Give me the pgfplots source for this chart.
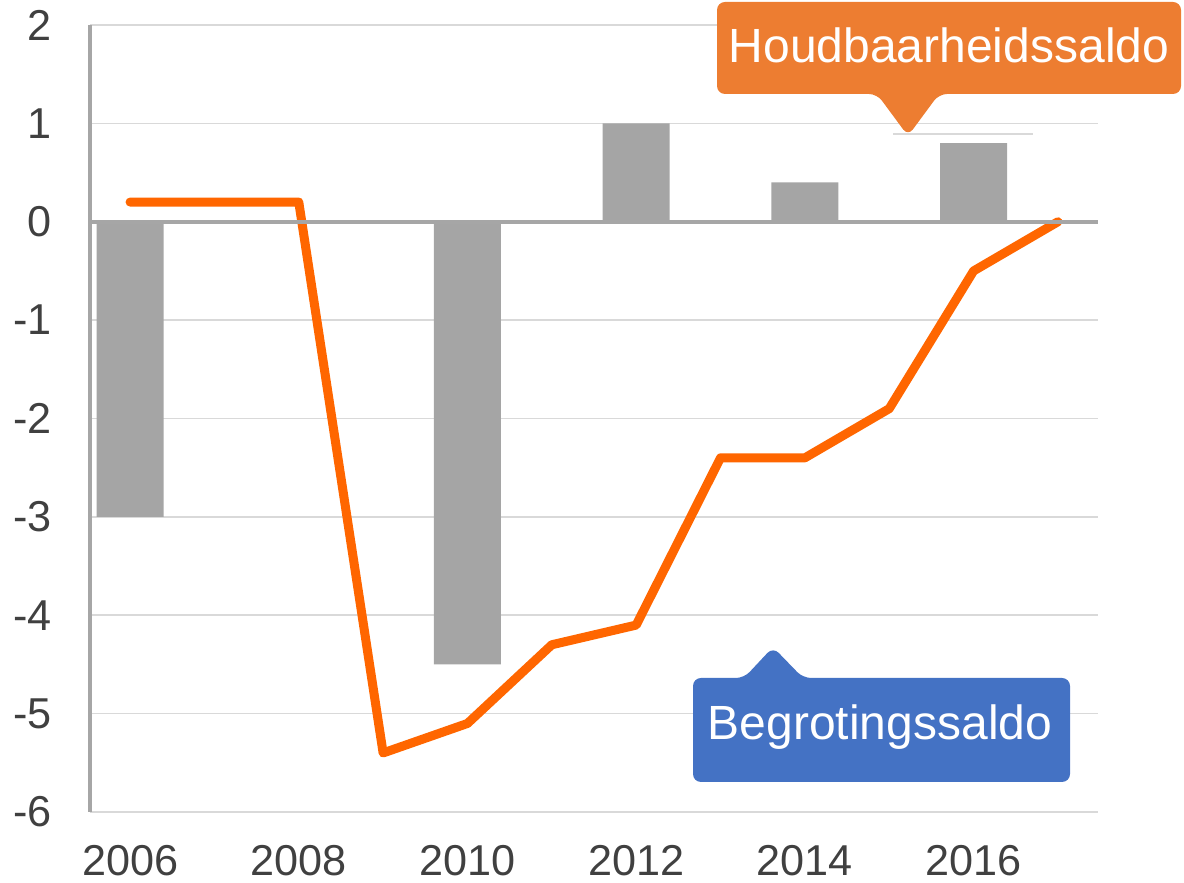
\documentclass[border=0pt]{standalone}
\usepackage{fontspec}
\setmainfont{Liberation Sans}
\usepackage{pgfplots}
\pgfplotsset{compat=1.18}
\definecolor{barg}{HTML}{A5A5A5}
\definecolor{lineor}{HTML}{FF6600}
\definecolor{boxor}{HTML}{ED7D31}
\definecolor{boxbl}{HTML}{4472C4}
\definecolor{gridg}{HTML}{D9D9D9}
\definecolor{axg}{HTML}{A6A6A6}
\definecolor{txt}{HTML}{404040}

\begin{document}
\begin{tikzpicture}
% picture frame: 1 px of the reference = 0.5pt
\useasboundingbox (-45pt,-35.5pt) rectangle (547pt,406pt);
\begin{axis}[
  scale only axis, width=504pt, height=393.5pt,
  xmin=2005.525, xmax=2017.475, ymin=-6, ymax=2,
  axis line style={draw=none},
  major tick length=0pt,
  xtick={2006,2008,2010,2012,2014,2016},
  xticklabels={2006,2008,2010,2012,2014,2016},
  ytick={-6,-5,-4,-3,-2,-1,0,1,2},
  yticklabels={-6,-5,-4,-3,-2,-1,0,1,2},
  ymajorgrids, grid style={gridg, line width=0.75pt},
  tick label style={font=\fontsize{21.6}{26}\selectfont, text=txt, inner sep=0pt},
  yticklabel style={anchor=east, xshift=-19pt},
  xticklabel style={anchor=base, yshift=-32pt},
  clip=false,
]
  % Houdbaarheidssaldo (bars)
  \addplot[ybar, bar width=33.5pt, bar shift=0pt, fill=barg, draw=none]
    coordinates {(2006,-3) (2008,0) (2010,-4.5) (2012,1) (2014,0.4) (2016,0.8)};

  % Begrotingssaldo (line)
  \addplot[lineor, line width=4.5pt, line cap=round, line join=round, mark=none]
    coordinates {
      (2006,0.2) (2007,0.2) (2008,0.2) (2009,-5.4) (2010,-5.1) (2011,-4.3)
      (2012,-4.1) (2013,-2.4) (2014,-2.4) (2015,-1.9) (2016,-0.5) (2017,0.0)
    };

  \draw[axg, line width=2pt] (axis cs:2005.525,-6) -- (axis cs:2005.525,2);
  \draw[axg, line width=1.75pt] (axis cs:2005.525,0) -- (axis cs:2017.475,0);
\end{axis}

% callouts, in reference pixels
\begin{scope}[x=0.5pt, y=-0.5pt, shift={(-45pt,406pt)}]
  \draw[gridg, line width=0.75pt] (893,134) -- (1033,134);
  \fill[boxor, rounded corners=4pt]
    (717,2) -- (1181,2) -- (1181,94) -- (939,94) -- (908,136) -- (877,94) -- (717,94) -- cycle;
  \node[text=white, font=\fontsize{24}{29}\selectfont, anchor=base] at (949,63) {Houdbaarheidssaldo};
  \fill[boxbl, rounded corners=4pt]
    (693,678) -- (744,678) -- (773,647) -- (803,678) -- (1070,678) -- (1070,782) -- (693,782) -- cycle;
  \node[text=white, font=\fontsize{24}{29}\selectfont, anchor=base] at (880,740) {Begrotingssaldo};
\end{scope}
\end{tikzpicture}
\end{document}
